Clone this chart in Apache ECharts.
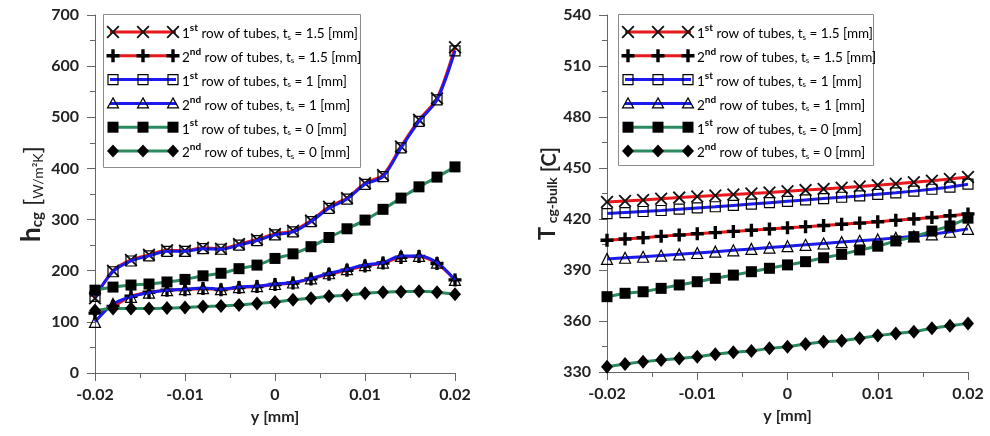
<!DOCTYPE html>
<html>
<head>
<meta charset="utf-8">
<script src="https://cdn.jsdelivr.net/npm/echarts@6/dist/echarts.min.js"></script>
<style>
html,body{margin:0;padding:0;background:#fff;}
#chart{width:990px;height:436px;}
</style>
</head>
<body>
<div id="chart"></div>
<script>
// ---------- data ----------
const yCoord = [-0.02, -0.018, -0.016, -0.014, -0.012, -0.01, -0.008, -0.006, -0.004, -0.002, 0,
                0.002, 0.004, 0.006, 0.008, 0.01, 0.012, 0.014, 0.016, 0.018, 0.02];

// heat transfer coefficient h_cg [W/m2K]
const hRow1T15 = [146, 200, 221, 231, 240, 239, 245, 243, 252, 261, 272, 278, 298, 325, 342, 371, 387, 443, 495, 537, 637];
const hRow2T15 = [117, 130, 150, 158, 162, 163, 165, 163, 167, 169, 173, 176, 184, 193, 201, 209, 215, 226, 228, 214, 182];
const hRow1T1  = [150, 198, 219, 229, 238, 238, 243, 242, 250, 259, 270, 276, 296, 322, 340, 369, 384, 440, 492, 534, 630];
const hRow2T1  = [100, 135, 149, 157, 162, 164, 166, 164, 168, 170, 174, 177, 185, 195, 203, 211, 216, 229, 229, 216, 182];
const hRow1T0  = [162, 168, 172, 174, 178, 183, 190, 195, 204, 211, 224, 233, 247, 265, 282, 299, 320, 342, 364, 383, 403];
const hRow2T0  = [122, 126, 126, 126, 127, 128, 130, 131, 133, 136, 139, 143, 146, 150, 152, 156, 158, 159, 160, 158, 154];

// bulk temperature T_cg-bulk [C]
const tRow1T15 = [430.0, 430.6, 431.2, 431.9, 432.6, 433.2, 433.8, 434.4, 435.0, 435.6, 436.3, 437.0, 437.7, 438.4, 439.1, 439.9, 440.7, 441.6, 442.5, 443.5, 444.7];
const tRow2T15 = [407.5, 408.2, 409.0, 409.8, 410.6, 411.3, 412.0, 412.7, 413.4, 414.1, 414.8, 415.5, 416.2, 416.9, 417.6, 418.4, 419.2, 420.0, 420.9, 421.9, 423.0];
const tRow1T1  = [423.2, 423.8, 424.4, 425.0, 425.8, 426.5, 427.2, 428.0, 428.8, 429.6, 430.4, 431.2, 432.0, 432.8, 433.6, 434.5, 435.4, 436.4, 437.5, 438.8, 440.5];
const tRow2T1  = [396.5, 397.2, 397.8, 398.5, 399.2, 400.0, 400.8, 401.6, 402.4, 403.2, 404.0, 404.8, 405.6, 406.4, 407.2, 408.0, 408.9, 409.8, 411.0, 412.5, 414.2];
const tRow1T0  = [374.3, 376.3, 377.2, 379.2, 381.2, 383.1, 385.1, 387.0, 389.0, 391.0, 393.0, 394.9, 397.2, 399.2, 401.8, 404.0, 407.1, 409.6, 412.9, 415.9, 420.5];
const tRow2T0  = [333.1, 334.7, 336.1, 337.1, 338.0, 339.0, 340.4, 341.6, 342.4, 343.9, 344.9, 346.5, 347.8, 348.4, 349.8, 351.4, 352.7, 353.7, 355.7, 357.2, 358.6];

const xTicks = [-0.02, -0.01, 0, 0.01, 0.02];
const hTicks = [0, 100, 200, 300, 400, 500, 600, 700];
const tTicks = [330, 360, 390, 420, 450, 480, 510, 540];

const seriesNames = [
  ['1', 'st', '1.5'], ['2', 'nd', '1.5'], ['1', 'st', '1'],
  ['2', 'nd', '1'], ['1', 'st', '0'], ['2', 'nd', '0']
];

// ---------- styles ----------
const FONT = 'Lato, "Open Sans", sans-serif';
const RED = '#e8191c', BLUE = '#1b1bf0', GREEN = '#2a8a60';
const X_PTS = [[0,1],[1,0],[5,4],[9,0],[10,1],[6,5],[10,9],[9,10],[5,6],[1,10],[0,9],[4,5]];
const PLUS_PTS = [[3.7,0],[6.3,0],[6.3,3.7],[10,3.7],[10,6.3],[6.3,6.3],[6.3,10],[3.7,10],[3.7,6.3],[0,6.3],[0,3.7],[3.7,3.7]];
function ptsToPath(pts) { return 'path://M' + pts.map(p => p[0] + ',' + p[1]).join(' L') + ' Z'; }

const seriesStyles = [
  {line: RED,   mk: 'x'},
  {line: RED,   mk: 'plus'},
  {line: BLUE,  mk: 'osq'},
  {line: BLUE,  mk: 'otri'},
  {line: GREEN, mk: 'sq'},
  {line: GREEN, mk: 'dia'}
];

function symbolOpts(mk) {
  switch (mk) {
    case 'x': return {symbol: ptsToPath(X_PTS), symbolSize: 13, itemStyle: {color: '#111'}};
    case 'plus': return {symbol: ptsToPath(PLUS_PTS), symbolSize: 13, itemStyle: {color: '#000'}};
    case 'osq': return {symbol: 'rect', symbolSize: 10, itemStyle: {color: 'rgba(255,255,255,0)', borderColor: '#000', borderWidth: 1.2}};
    case 'otri': return {symbol: 'triangle', symbolSize: 11, itemStyle: {color: 'rgba(255,255,255,0)', borderColor: '#000', borderWidth: 1.2}};
    case 'sq': return {symbol: 'rect', symbolSize: 11, itemStyle: {color: '#000'}};
    case 'dia': return {symbol: 'diamond', symbolSize: [12, 14], itemStyle: {color: '#000'}};
  }
}

function makeSeries(dataArrs, axisIdx, smooth) {
  return dataArrs.map((arr, k) => {
    const st = seriesStyles[k];
    return Object.assign({
      type: 'line',
      name: 'L' + axisIdx + '_' + k,
      xAxisIndex: axisIdx, yAxisIndex: axisIdx,
      data: yCoord.map((x, i) => [x, arr[i]]),
      smooth: smooth,
      showAllSymbol: true,
      lineStyle: {color: st.line, width: 3},
      z: 2 + k
    }, symbolOpts(st.mk));
  });
}

// ---------- legend (drawn as graphic) ----------
function shiftPts(pts, cx, cy, size) {
  return pts.map(p => [cx - size / 2 + p[0] * size / 10, cy - size / 2 + p[1] * size / 10]);
}
function legendMarker(mk, cx, cy) {
  switch (mk) {
    case 'x': return {type: 'polygon', shape: {points: shiftPts(X_PTS, cx, cy, 13)}, style: {fill: '#111'}};
    case 'plus': return {type: 'polygon', shape: {points: shiftPts(PLUS_PTS, cx, cy, 13)}, style: {fill: '#000'}};
    case 'osq': return {type: 'rect', shape: {x: cx - 5, y: cy - 5, width: 10, height: 10}, style: {fill: 'rgba(255,255,255,0)', stroke: '#000', lineWidth: 1.2}};
    case 'otri': return {type: 'polygon', shape: {points: [[cx, cy - 5.5], [cx + 5.5, cy + 4.5], [cx - 5.5, cy + 4.5]]}, style: {fill: 'rgba(255,255,255,0)', stroke: '#000', lineWidth: 1.2}};
    case 'sq': return {type: 'rect', shape: {x: cx - 5.5, y: cy - 5.5, width: 11, height: 11}, style: {fill: '#000'}};
    case 'dia': return {type: 'polygon', shape: {points: [[cx, cy - 6.5], [cx + 6, cy], [cx, cy + 6.5], [cx - 6, cy]]}, style: {fill: '#000'}};
  }
}

function buildLegend(x0, y0, w, h) {
  const els = [{
    type: 'rect', shape: {x: x0 + 0.5, y: y0 + 0.5, width: w, height: h},
    style: {fill: '#fff', stroke: '#8c8c8c', lineWidth: 1}, z: 50
  }];
  const rowH = 23.8;
  seriesNames.forEach((nm, k) => {
    const cy = y0 + 18 + k * rowH;
    const st = seriesStyles[k];
    els.push({type: 'line', shape: {x1: x0 + 7, y1: cy, x2: x0 + 73, y2: cy}, style: {stroke: st.line, lineWidth: 3}, z: 51});
    [x0 + 10, x0 + 40, x0 + 70].forEach(mx => {
      const m = legendMarker(st.mk, mx, cy);
      m.z = 52;
      els.push(m);
    });
    els.push({
      type: 'text', z: 53, x: x0 + 79, y: cy,
      style: {
        text: '{n|' + nm[0] + '}{sup|' + nm[1] + '}{n| row of tubes, t}{sub|s}{n| = ' + nm[2] + ' [mm]}',
        fill: '#000', verticalAlign: 'middle', align: 'left',
        rich: {
          n: {fontSize: 13.5, fontFamily: FONT, lineHeight: 18, verticalAlign: 'bottom'},
          sup: {fontSize: 10, fontFamily: FONT, fontWeight: 'bold', lineHeight: 18, verticalAlign: 'top'},
          sub: {fontSize: 8, fontFamily: FONT, lineHeight: 16, verticalAlign: 'bottom'}
        }
      }
    });
  });
  return els;
}

// ---------- axes ----------
const axisLineStyle = {color: '#666', width: 1};
function xAxisOpt(gridIdx) {
  return {
    type: 'value', gridIndex: gridIdx,
    min: xTicks[0], max: xTicks[xTicks.length - 1], interval: 0.01,
    axisLine: {show: true, onZero: false, lineStyle: axisLineStyle},
    axisTick: {show: true, length: 8, lineStyle: axisLineStyle},
    minorTick: {show: true, splitNumber: 2, length: 5, lineStyle: axisLineStyle},
    splitLine: {show: false},
    axisLabel: {
      margin: 14, color: '#222', fontFamily: FONT, fontWeight: 'bold', fontSize: 16,
      formatter: v => { const r = Math.round(v * 100) / 100; return r === 0 ? '0' : String(r); }
    },
    name: 'y [mm]', nameLocation: 'middle', nameGap: 36,
    nameTextStyle: {color: '#222', fontFamily: FONT, fontWeight: 'bold', fontSize: 16}
  };
}
function yAxisOpt(gridIdx, ticks, name, rich, gap) {
  return {
    type: 'value', gridIndex: gridIdx,
    min: ticks[0], max: ticks[ticks.length - 1], interval: ticks[1] - ticks[0],
    axisLine: {show: true, onZero: false, lineStyle: axisLineStyle},
    axisTick: {show: true, length: 8, lineStyle: axisLineStyle},
    minorTick: {show: true, splitNumber: 2, length: 5, lineStyle: axisLineStyle},
    splitLine: {show: false},
    axisLabel: {margin: 16, color: '#222', fontFamily: FONT, fontWeight: 'bold', fontSize: 16},
    name: name, nameLocation: 'middle', nameGap: gap,
    nameTextStyle: {color: '#222', fontFamily: FONT, rich: rich}
  };
}

const hRich = {
  h: {fontSize: 26, fontWeight: 'bold', fontFamily: FONT, color: '#222', verticalAlign: 'bottom', lineHeight: 30},
  s: {fontSize: 15, fontWeight: 'bold', fontFamily: FONT, color: '#222', verticalAlign: 'bottom', lineHeight: 26},
  b: {fontSize: 24, fontFamily: FONT, color: '#222', verticalAlign: 'bottom', lineHeight: 30},
  f: {fontSize: 14, fontFamily: FONT, color: '#222', verticalAlign: 'bottom', lineHeight: 28}
};
const tRich = {
  h: {fontSize: 22, fontWeight: 'bold', fontFamily: FONT, color: '#222', verticalAlign: 'bottom', lineHeight: 26},
  s: {fontSize: 14, fontWeight: 'bold', fontFamily: FONT, color: '#222', verticalAlign: 'bottom', lineHeight: 22},
  b: {fontSize: 20, fontWeight: 'bold', fontFamily: FONT, color: '#222', verticalAlign: 'bottom', lineHeight: 26}
};

const chart = echarts.init(document.getElementById('chart'), null, {renderer: 'canvas'});
chart.setOption({
  animation: false,
  backgroundColor: '#fff',
  grid: [
    {left: 95, top: 15, width: 360, height: 358},
    {left: 607, top: 15, width: 361, height: 357}
  ],
  xAxis: [xAxisOpt(0), xAxisOpt(1)],
  yAxis: [
    yAxisOpt(0, hTicks, '{h|h}{s|cg}{b| [}{f|W/m²K}{b|]}', hRich, 50),
    yAxisOpt(1, tTicks, '{h|T}{s| cg-bulk}{b| [C]}', tRich, 40)
  ],
  series: [].concat(
    makeSeries([hRow1T15, hRow2T15, hRow1T1, hRow2T1, hRow1T0, hRow2T0], 0, 0.3),
    makeSeries([tRow1T15, tRow2T15, tRow1T1, tRow2T1, tRow1T0, tRow2T0], 1, false)
  ),
  graphic: [].concat(buildLegend(103, 14, 257, 153), buildLegend(618, 14, 255, 151))
});
</script>
</body>
</html>
